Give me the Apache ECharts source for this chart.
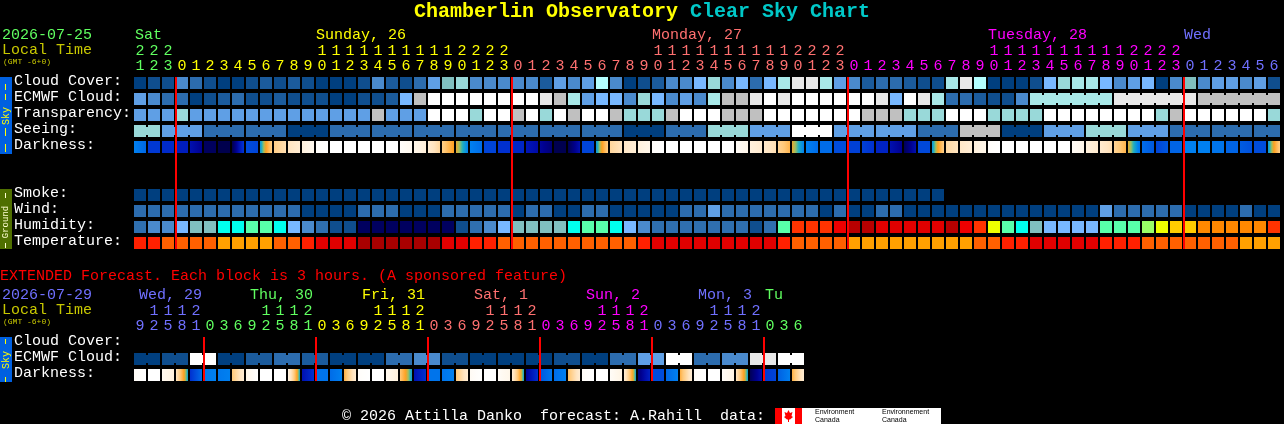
<!DOCTYPE html>
<html><head><meta charset="utf-8">
<style>html,body{margin:0;padding:0;background:#000;overflow:hidden}#c{width:1284px;height:424px}</style>
<script src="https://cdn.jsdelivr.net/npm/echarts@6/dist/echarts.min.js"></script>
</head><body><div id="c"></div>
<script>
// ---------- DATA ----------
const titleA = 'Chamberlin Observatory', titleB = 'Clear Sky Chart';
const mainHours = [21,22,23,0,1,2,3,4,5,6,7,8,9,10,11,12,13,14,15,16,17,18,19,20,21,22,23,
  0,1,2,3,4,5,6,7,8,9,10,11,12,13,14,15,16,17,18,19,20,21,22,23,
  0,1,2,3,4,5,6,7,8,9,10,11,12,13,14,15,16,17,18,19,20,21,22,23,
  0,1,2,3,4,5,6];
const mainRows = ['Cloud Cover:','ECMWF Cloud:','Transparency:','Seeing:','Darkness:','','','Smoke:','Wind:','Humidity:','Temperature:'];
const mainMidnights = [3,27,51,75];
const mainDays = [[0,'Sat'],[13,'Sunday, 26'],[37,'Monday, 27'],[61,'Tuesday, 28'],[75,'Wed']];
const cloudCover = [0,1,1,4,3,1,0,0,1,2, 1,2,1,0,0,0,1,4,2,1, 3,5,7,8,4,4,4,4,4,2,
  5,4,5,10,4,0,1,2,4,4, 6,8,4,6,3,6,9,12,12,9, 5,4,2,3,3,2,1,1,9,12,
  10,0,0,0,1,6,8,9,9,6, 4,5,6,0,4,7,4,5,5,4, 5,1];
const ecmwfCloud = [5,4,3,3,0,1,2,3,1,1, 2,1,1,1,0,0,1,1,2,6, 11,13,13,13,13,13,13,13,13,12,
  11,9,5,6,6,4,8,6,4,5, 4,9,11,11,12,13,12,13,13,13, 13,13,13,12,6,13,12,9,3,3,
  2,1,1,4,9,9,9,9,9,9, 12,12,12,12,12,12,11,11,11,11, 11,11];
const ecmwfSpans = [[64,69],[70,75],[76,81]];
const transparency = [5,5,5,8,5,5,5,5,5,5, 5,5,5,5,5,5,5,11,5,5, 5,13,13,13,8,13,13,11,13,8,
  13,11,13,13,11,8,8,8,11,13, 13,13,11,11,11,13,13,13,13,13, 13,13,11,11,11,8,8,8,13,13,
  13,8,8,8,8,13,13,13,13,13, 13,13,13,8,11,13,13,13,13,13, 13,8];
const seeing = [8,8,5,5,5,3,3,3,3,3, 3,0,0,0,3,3,3,3,3,3, 3,3,3,3,3,3,3,3,3,3,
  3,3,3,3,3,0,0,0,3,3, 3,8,8,8,5,5,5,13,13,13, 5,5,5,5,5,5,3,3,3,11,
  11,11,0,0,0,5,5,5,8,8, 8,5,5,5,3,3,3,3,3,3, 3,3];
const seeingSpans = [[0,1],[2,4],[5,7],[8,10],[11,13],[14,16],[17,19],[20,22],[23,25],[26,28],[29,31],[32,34],
  [35,37],[38,40],[41,43],[44,46],[47,49],[50,52],[53,55],[56,58],[59,61],[62,64],[65,67],[68,70],[71,73],[74,76],[77,79],[80,81]];
const darkLeft = [5,6.8,7.2,7.6,8,9.3,9.6,9.6,6.3,4.8, 2.8,2,1.2,.2,0,0,0,0,0,.2, .8,1.5,2.8,3.9,5,6.5,7,7.3,7.8,8.4,
  9.5,9.5,6.5,4.8,2.5,1.8,1.2,.2,0,0, 0,0,0,.3,1.2,1.7,2.6,3.9,5,5.5, 6.3,6.6,6.6,7.4,8,9.4,6.4,4.8,2.4,1.8,
  1.2,.2,0,0,0,0,0,.4,1.2,1.6, 2.6,3.9,5.5,6.5,5.7,5,5,5.3,5.7,5.9, 6.3,4.8];
const darkRight = [5.6,6.8,7.2,7.6,8.6,9.3,9.6,6.8,6.5,2.8, 2.2,1.5,.6,0,0,0,0,0,0,.6, 1.3,2.5,3.8,5,5.5,6.5,7,7.3,8.2,9,
  9.5,8,6.5,2.8,2,1.4,.8,0,0,0, 0,0,0,.8,1.6,2.2,3.4,5,5.5,5.5, 6.3,6.6,7,7.4,8.6,8,6.4,2.8,2,1.4,
  .8,0,0,0,0,0,0,.8,1.6,2.2, 3.4,5.2,6,6,5.7,5,5,5.3,5.7,6.2, 6.3,2.8];
const smoke = [0,0,0,0,0,0,0,0,0,0, 0,0,0,0,0,0,0,0,0,0, 0,0,0,0,0,0,0,0,0,0,
  0,0,0,0,0,0,0,0,0,0, 0,0,0,0,0,0,0,0,0,0, 0,0,0,0,0,0,0,0];
const wind = [3,3,3,3,3,3,3,3,3,3, 3,3,0,0,0,0,3,3,3,0, 0,0,3,3,3,3,3,0,3,3,
  0,0,3,3,0,0,0,0,0,3, 3,5,3,3,3,3,3,3,3,0, 3,0,0,3,3,0,0,0,0,0,
  0,0,0,0,0,0,0,0,0,5, 3,3,3,3,3,0,0,0,0,3, 0,0];
const humidity = [2,3,3,4,5,5,6,6,7,7, 6,4,3,2,1,1,0,0,0,0, 0,0,0,1,2,3,4,5,5,5,
  5,6,7,7,6,4,3,2,2,2, 2,2,2,2,1,2,7,12,12,12, 13,15,15,14,14,14,14,14,15,13,
  12,9,7,6,5,4,4,4,4,7, 7,7,8,9,10,10,11,11,11,11, 11,12];
const temperature = [2,2,3,3,3,3,4,4,4,4, 3,3,2,1,1,1,0,0,0,0, 0,0,1,1,2,2,3,3,3,3,
  3,3,3,3,3,3,2,1,1,1, 1,1,1,1,1,1,2,3,3,3, 3,4,4,4,4,4,4,4,4,4,
  3,3,2,2,1,1,1,1,1,2, 2,2,3,3,3,3,3,3,3,4, 4,4];

const extHours = [9,12,15,18,21,0,3,6, 9,12,15,18,21,0,3,6, 9,12,15,18,21,0,3,6,
  9,12,15,18,21,0,3,6, 9,12,15,18,21,0,3,6, 9,12,15,18,21,0,3,6];
const extRows = ['Cloud Cover:','ECMWF Cloud:','Darkness:'];
const extMidnights = [5,13,21,29,37,45];
const extDays = [[0,'Wed, 29'],[8,'Thu, 30'],[16,'Fri, 31'],[24,'Sat, 1'],[32,'Sun, 2'],[40,'Mon, 3'],[45,'Tu']];
const extEcmwf = [0,0,1,1,13,13,0,0,2,2,3,3,2,2,0,0,0,0,3,3,4,4,1,1,
  0,0,0,0,0,0,1,1,0,0,3,3,5,5,13,13,3,3,4,4,12,12,13,13];
const extSpans = [[0,1],[2,3],[4,5],[6,7],[8,9],[10,11],[12,13],[14,15],[16,17],[18,19],[20,21],[22,23],
  [24,25],[26,27],[28,29],[30,31],[32,33],[34,35],[36,37],[38,39],[40,41],[42,43],[44,45],[46,47]];
const extDarkLeft = [.3,0,.6,2,7,5.2,5.2,3, .8,0,0,1,8,5.3,5.5,3.5, .2,0,.6,3,8,5.3,5.3,3,
  .4,0,.3,1.5,8.5,6,5.5,3.2, .3,0,.3,1.5,9,6.3,5.6,3.5, .3,0,.3,2,9.4,6.8,5.8,3.5];
const extDarkRight = [0,0,1.2,4.7,5.5,5,5,1.5, 0,0,0,4.7,7,5.3,5,1.5, 0,0,1.2,4.7,7,5.3,5,1.5,
  0,0,.8,4.7,7,5.2,5,1.5, 0,0,1,4.7,7.5,6.3,5,1.5, 0,0,1,4.7,8,6.5,5,1.5];

// ---------- STYLE ----------
const MONO = '"Liberation Mono","DejaVu Sans Mono",monospace';
const cloudColors = ['#003F7F','#0F4E8E','#1B5B9C','#2C6CAE','#4A8ACD','#5F9FE5','#78B8FF','#80BFBF','#99D9D9','#A8E8E8','#B4FFFF','#C0C0C0','#E8E8E8','#FFFFFF'];
const humidityColors = ['#00005F','#0F4E8E','#2F6FAF','#4A8ACC','#78B8FF','#80BFBF','#00FFEE','#58FFAA','#99FF66','#EEFF00','#FFCC00','#FF8800','#FF3300','#EE0000','#E00000','#B80000'];
const temperatureColors = ['#A80000','#E00000','#FF2000','#FF6000','#FFA000'];
const darkStops = [[0,'#FFFFFF'],[1,'#FFF4E4'],[2,'#FFE4C0'],[3,'#FFC878'],[3.8,'#FFA020'],[4.2,'#A0C060'],[4.5,'#20B0C0'],[5,'#0080F0'],[6,'#0058E0'],[7,'#0030D0'],[8,'#0010B0'],[8.6,'#000090'],[9.5,'#000050'],[10,'#000040']];
const GREEN='#60FF60',YELLOW='#FFFF00',RED='#FF7070',MAGENTA='#FF00FF',BLUE='#7070FF',DIM='#C8C800';
const mainDayColors=[GREEN,YELLOW,RED,MAGENTA,BLUE];
const extDayColors=[BLUE,GREEN,YELLOW,RED,MAGENTA,BLUE,GREEN];
const CELL_GAP_X=2, CELL_GAP_Y=4, BRIDGE_INSET=2;

function darkColor(v){
  for(let i=1;i<darkStops.length;i++){
    if(v<=darkStops[i][0]){
      const a=darkStops[i-1],b=darkStops[i];
      return echarts.color.lerp((v-a[0])/(b[0]-a[0]),[a[1],b[1]]);
    }
  }
  return darkStops[darkStops.length-1][1];
}
const segIndex=(i,marks)=>marks.filter(m=>m<=i).length;

function cellSeries(grid,row,values,colors,spans,name){
  const inSpan=c=>(spans||[]).some(s=>c>=s[0]&&c<s[1]);
  return {type:'custom',name,xAxisIndex:grid.x,yAxisIndex:grid.y,silent:true,
    data:values.map((v,c)=>[c,row,v]),
    renderItem(p,api){
      const c=api.value(0),pt=api.coord([c,api.value(1)]),sz=api.size([1,1]);
      const w=sz[0]-CELL_GAP_X,h=sz[1]-CELL_GAP_Y,fill=colors[api.value(2)];
      const kids=[{type:'rect',shape:{x:pt[0]-w/2,y:pt[1]-h/2,width:w,height:h},style:{fill}}];
      if(inSpan(c))kids.push({type:'rect',shape:{x:pt[0]+w/2,y:pt[1]-h/2+BRIDGE_INSET,width:CELL_GAP_X,height:h-2*BRIDGE_INSET},style:{fill}});
      return {type:'group',children:kids};
    }};
}
function darkSeries(grid,row,left,right,name){
  return {type:'custom',name,xAxisIndex:grid.x,yAxisIndex:grid.y,silent:true,
    data:left.map((v,c)=>[c,row,v,right[c]]),
    renderItem(p,api){
      const pt=api.coord([api.value(0),api.value(1)]),sz=api.size([1,1]);
      const w=sz[0]-CELL_GAP_X,h=sz[1]-CELL_GAP_Y,a=api.value(2),b=api.value(3);
      const stops=[];for(let k=0;k<=12;k++){const t=k/12;stops.push({offset:t,color:darkColor(a+(b-a)*t)});}
      return {type:'rect',shape:{x:pt[0]-w/2,y:pt[1]-h/2,width:w,height:h},
        style:{fill:new echarts.graphic.LinearGradient(0,0,1,0,stops)}};
    }};
}
function redSeries(grid,cols,lastRow){
  return {type:'custom',name:'midnight',xAxisIndex:grid.x,yAxisIndex:grid.y,silent:true,z:5,
    data:cols.map(c=>[c]),
    renderItem(p,api){
      const c=api.value(0),a=api.coord([c,0]),b=api.coord([c,lastRow]),sz=api.size([1,1]);
      const top=a[1]-(sz[1]-CELL_GAP_Y)/2,bot=b[1]+(sz[1]-CELL_GAP_Y)/2;
      return {type:'rect',shape:{x:a[0]-sz[0]/2,y:top,width:2,height:bot-top},style:{fill:'#FF0000'}};
    }};
}
function dayLabelSeries(grid,days,colors,dy,dxs){
  return {type:'custom',name:'days',xAxisIndex:grid.x,yAxisIndex:grid.y,silent:true,
    data:days.map((d,i)=>[d[0],i]),
    renderItem(p,api){
      const i=api.value(1),pt=api.coord([api.value(0),0]),sz=api.size([1,1]);
      return {type:'text',style:{text:days[i][1],x:pt[0]-sz[0]/2+dxs[i],y:pt[1]+dy,fill:colors[i],font:'15px '+MONO,align:'left',verticalAlign:'middle'}};
    }};
}
function hourAxes(grid,hours,marks,colors){
  const col=(v,i)=>colors[segIndex(i,marks)];
  const base={type:'category',gridIndex:grid,position:'top',axisLine:{show:false},axisTick:{show:false},splitLine:{show:false}};
  const lab={interval:0,margin:1,color:col,fontFamily:MONO,fontSize:15,showMinLabel:true,showMaxLabel:true,hideOverlap:false};
  return [
    {...base,data:hours.map(h=>String(h%10)),axisLabel:lab},
    {...base,offset:15,data:hours.map(h=>h>=10?String(Math.floor(h/10)):' '),axisLabel:lab}
  ];
}
function rowAxis(grid,rows){
  return {type:'category',gridIndex:grid,inverse:true,data:rows,axisLine:{show:false},axisTick:{show:false},splitLine:{show:false},
    axisLabel:{interval:0,align:'left',margin:119,color:'#FFFFFF',fontFamily:MONO,fontSize:15,
      formatter:v=>v?'{a|'+v+'}':'',rich:{a:{color:'#FFFFFF',fontFamily:MONO,fontSize:15,padding:[0,0,3,0]}}}};
}
const T=(text,x,y,fill,size,extra)=>({type:'text',x,y,silent:true,style:Object.assign({text,fill,font:(size||15)+'px '+MONO,align:'left',verticalAlign:'middle'},extra||{})});
const R=(x,y,w,h,fill)=>({type:'rect',silent:true,shape:{x,y,width:w,height:h},style:{fill}});
const V=(text,x,y,fill,size)=>({type:'text',x,y,rotation:Math.PI/2,silent:true,style:{text,fill,font:size+'px '+MONO,align:'center',verticalAlign:'middle'}});

const G0={x:0,y:0},G1={x:2,y:1};
const option={
  backgroundColor:'#000',animation:false,
  grid:[{left:133,top:75,width:1148,height:176},{left:133,top:335,width:672,height:48}],
  xAxis:[...hourAxes(0,mainHours,mainMidnights,mainDayColors),...hourAxes(1,extHours,extMidnights,extDayColors)],
  yAxis:[rowAxis(0,mainRows),rowAxis(1,extRows)],
  series:[
    cellSeries(G0,0,cloudCover,cloudColors,null,'Cloud Cover'),
    cellSeries(G0,1,ecmwfCloud,cloudColors,ecmwfSpans,'ECMWF Cloud'),
    cellSeries(G0,2,transparency,cloudColors,null,'Transparency'),
    cellSeries(G0,3,seeing,cloudColors,seeingSpans,'Seeing'),
    darkSeries(G0,4,darkLeft,darkRight,'Darkness'),
    cellSeries(G0,7,smoke,cloudColors,null,'Smoke'),
    cellSeries(G0,8,wind,cloudColors,null,'Wind'),
    cellSeries(G0,9,humidity,humidityColors,null,'Humidity'),
    cellSeries(G0,10,temperature,temperatureColors,null,'Temperature'),
    redSeries(G0,mainMidnights,10),
    dayLabelSeries(G0,mainDays,mainDayColors,-48,[2,1,1,1,1]),
    cellSeries(G1,1,extEcmwf,cloudColors,extSpans,'Extended ECMWF'),
    darkSeries(G1,2,extDarkLeft,extDarkRight,'Extended Darkness'),
    redSeries(G1,extMidnights,2),
    dayLabelSeries(G1,extDays,extDayColors,-48,[6,5,5,5,5,5,2])
  ],
  graphic:{elements:[
    T(titleA,414,12,YELLOW,20,{font:'bold 20px '+MONO}),
    T(titleB,690,12,'#00C8C8',20,{font:'bold 20px '+MONO}),
    T('2026-07-25',2,35,GREEN),T('Local Time',2,50,DIM),T('(GMT -6+0)',3,62,DIM,8),
    R(0,77,12,77,'#0060E0'),
    R(5,84,1,6,YELLOW),R(5,94,1,6,YELLOW),R(5,128,1,8,YELLOW),R(5,144,1,8,YELLOW),
    V('Sky',6,116,YELLOW,10),
    R(0,189,12,60,'#4F6F00'),
    R(5,193,1,5,'#FFFFD0'),R(5,243,1,5,'#FFFFD0'),
    V('Ground',6,222,'#FFFFD0',9),
    T('EXTENDED Forecast. Each block is 3 hours. (A sponsored feature)',0,276,'#FF0000'),
    T('2026-07-29',2,295,BLUE),T('Local Time',2,310,DIM),T('(GMT -6+0)',3,322,DIM,8),
    R(0,337,12,45,'#0060E0'),
    R(5,339,1,5,YELLOW),R(5,377,1,5,YELLOW),
    V('Sky',6,360,YELLOW,10),
    T('\u00A9 2026 Attilla Danko  forecast: A.Rahill  data:',342,416,'#FFFFFF'),
    R(775,408,166,16,'#FFFFFF'),R(775,408,7,16,'#FF0000'),R(795,408,7,16,'#FF0000'),
    {type:'polygon',silent:true,shape:{points:[[788.5,410],[790,413],[792.5,412],[791.5,416],[793,417],[790,419.5],[789,419.5],[789,422],[788,422],[788,419.5],[787,419.5],[784,417],[785.5,416],[784.5,412],[787,413]]},style:{fill:'#FF0000'}},
    T('Environment',815,412,'#000000',7,{font:'7px "Liberation Sans",sans-serif'}),
    T('Canada',815,420,'#000000',7,{font:'7px "Liberation Sans",sans-serif'}),
    T('Environnement',882,412,'#000000',7,{font:'7px "Liberation Sans",sans-serif'}),
    T('Canada',882,420,'#000000',7,{font:'7px "Liberation Sans",sans-serif'})
  ]}
};
echarts.init(document.getElementById('c'),null,{renderer:'canvas',width:1284,height:424}).setOption(option);
</script></body></html>
